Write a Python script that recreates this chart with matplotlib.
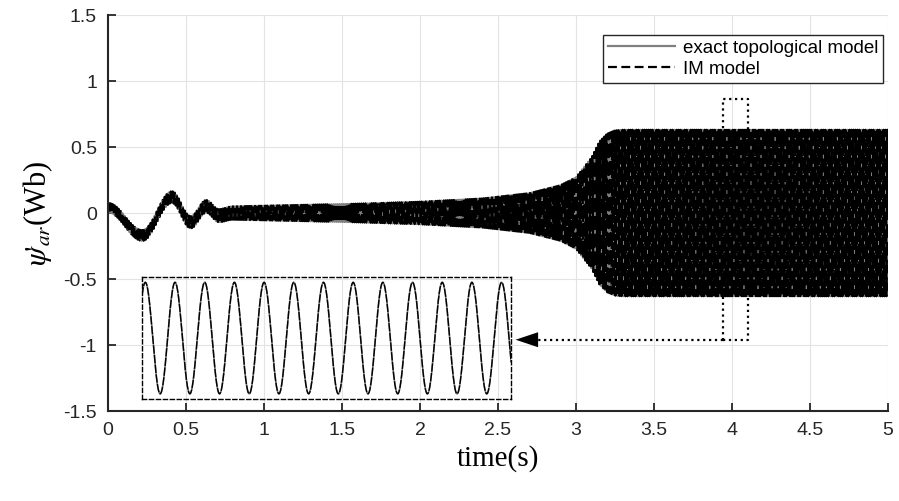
#! /usr/bin/env python
"""Rotor flux linkage: exact topological model vs IM model."""

import numpy as np
import matplotlib.pyplot as plt

plt.rcParams['font.family'] = ['Liberation Sans', 'DejaVu Sans']
plt.rcParams['mathtext.fontset'] = 'stix'

# envelope of the fast oscillation
env_t = [0.0, 0.2, 0.5, 0.8, 1.2, 1.6, 2.0, 2.4, 2.7, 2.9, 3.0, 3.1,
         3.15, 3.2, 3.25, 3.3, 5.0]
env_amp = [0.035, 0.04, 0.045, 0.05, 0.06, 0.07, 0.085, 0.11, 0.15, 0.21,
           0.27, 0.42, 0.54, 0.60, 0.625, 0.63, 0.63]

# slow start-up swing (extrema)
swing_t = [0.0, 0.22, 0.41, 0.53, 0.63, 0.71, 0.8, 5.0]
swing_val = [0.04, -0.17, 0.12, -0.07, 0.05, -0.02, 0.0, 0.0]

freq_hz = 77.7
zoom_t = [3.94, 4.10]
zoom_y = [-0.96, 0.86]

xticks = [0, 0.5, 1, 1.5, 2, 2.5, 3, 3.5, 4, 4.5, 5]
xticklabels = ['0', '0.5', '1', '1.5', '2', '2.5', '3', '3.5', '4', '4.5', '5']
yticks = [-1.5, -1, -0.5, 0, 0.5, 1, 1.5]
yticklabels = ['-1.5', '-1', '-0.5', '0', '0.5', '1', '1.5']


def swing(t):
    """Half-cosine blend between the read extrema."""
    out = np.zeros_like(t)
    for i in range(len(swing_t) - 1):
        m = (t >= swing_t[i]) & (t <= swing_t[i + 1])
        s = (t[m] - swing_t[i]) / (swing_t[i + 1] - swing_t[i])
        w = (1 - np.cos(np.pi * s)) / 2
        out[m] = swing_val[i] + (swing_val[i + 1] - swing_val[i]) * w
    return out


t = np.linspace(0, 5, 40001)
psi = swing(t) + np.interp(t, env_t, env_amp) * np.sin(2 * np.pi * freq_hz * t)

fig = plt.figure(figsize=(8.99, 5.01), dpi=100)
ax = fig.add_axes([108 / 899, 1 - 411 / 501, 780 / 899, 396 / 501])

ax.plot(t, psi, color='#808080', lw=1.6, label='exact topological model')
ax.plot(t, psi, color='black', lw=1.6, ls=(0, (6, 2)), label='IM model')

ax.set_xlim(0, 5)
ax.set_ylim(-1.5, 1.5)
ax.set_xticks(xticks)
ax.set_xticklabels(xticklabels)
ax.set_yticks(yticks)
ax.set_yticklabels(yticklabels)
ax.grid(True, color='#e3e3e3', lw=0.8)
ax.set_axisbelow(True)
for side in ('top', 'right'):
    ax.spines[side].set_visible(False)
for side in ('left', 'bottom'):
    ax.spines[side].set_linewidth(1.5)
    ax.spines[side].set_color('#262626')
ax.tick_params(direction='in', length=6, width=1.3, labelsize=14,
               colors='#262626', pad=8)

ax.set_xlabel('time(s)', family='Liberation Serif', fontsize=21, labelpad=4)
ax.set_ylabel(r"$\psi\!'_{ar}$(Wb)", family='Liberation Serif', fontsize=22,
              labelpad=6)

leg = ax.legend(loc='upper right', bbox_to_anchor=(0.9936, 0.949),
                fontsize=13.5, handlelength=3.6, fancybox=False,
                borderaxespad=0, framealpha=1, borderpad=0.25,
                labelspacing=0.2, handletextpad=0.4)
leg.get_frame().set_edgecolor('#262626')
leg.get_frame().set_linewidth(1.0)
leg.get_lines()[1].set_linestyle((0, (4, 2)))

# zoom window and arrow
ax.plot([zoom_t[0], zoom_t[1], zoom_t[1], zoom_t[0], zoom_t[0]],
        [zoom_y[0], zoom_y[0], zoom_y[1], zoom_y[1], zoom_y[0]],
        color='black', lw=1.6, ls=':')
ax.plot([zoom_t[0], 2.7], [zoom_y[0], zoom_y[0]], color='black', lw=1.6,
        ls=':')
ax.annotate('', xy=(2.595, zoom_y[0]), xytext=(2.72, zoom_y[0]),
            arrowprops=dict(arrowstyle='-|>,head_length=0.9,head_width=0.3',
                            color='black', lw=0, mutation_scale=18))

# inset
ins = ax.inset_axes([0.218, -1.41, 2.366, 0.925], transform=ax.transData)
m = (t >= zoom_t[0]) & (t <= zoom_t[1])
ins.plot(t[m], psi[m], color='#808080', lw=1.2)
ins.plot(t[m], psi[m], color='black', lw=1.0, ls=(0, (6, 1)))
ins.set_xlim(zoom_t)
ins.set_ylim(-0.69, 0.69)
ins.set_xticks([])
ins.set_yticks([])
ins.patch.set_alpha(0)
for sp in ins.spines.values():
    sp.set_linestyle((0, (3, 2)))
    sp.set_linewidth(1.0)

fig.savefig('out.png', dpi=100)
